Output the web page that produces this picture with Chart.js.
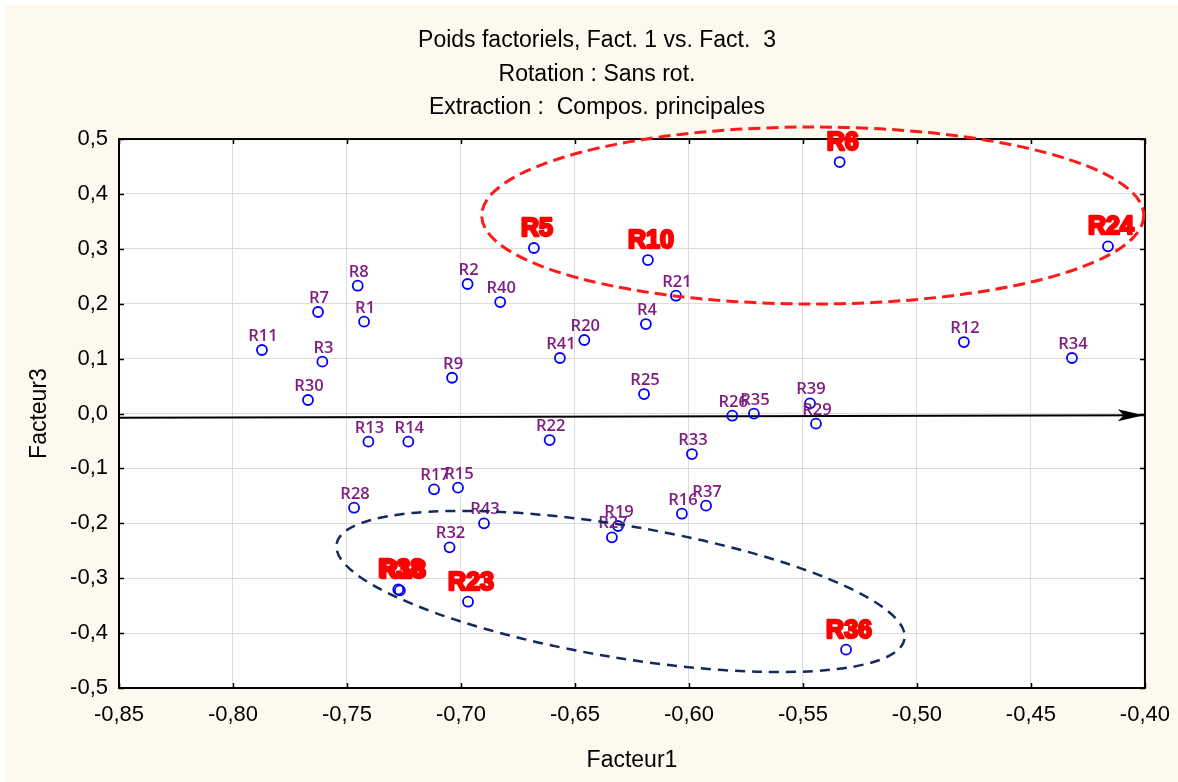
<!DOCTYPE html>
<html>
<head>
<meta charset="utf-8">
<script src="https://cdn.jsdelivr.net/npm/chart.js@4/dist/chart.umd.min.js"></script>
<style>
  html, body { margin: 0; padding: 0; background: #ffffff; overflow: hidden; width: 1178px; height: 782px; }
  #wrap { position: absolute; left: 5px; top: 5px; width: 1179px; height: 777px; background: #fdf9ef; }
</style>
</head>
<body>
<div id="wrap"><canvas id="chart" width="1179" height="777"></canvas></div>
<script>
// Poids factoriels - Fact. 1 vs Fact. 3
const names = ['R1','R2','R3','R4','R5','R6','R7','R8','R9','R10','R11','R12','R13','R14','R15','R16','R17','R18','R19','R20','R21',
               'R22','R23','R24','R25','R26','R27','R28','R29','R30','R32','R33','R34','R35','R36','R37','R38','R39','R40','R41','R43'];
const facteur1 = [-0.7425,-0.6971,-0.7608,-0.6189,-0.6680,-0.5339,-0.7627,-0.7453,-0.7039,-0.6180,-0.7873,-0.4794,-0.7406,-0.7231,
                  -0.7013,-0.6031,-0.7118,-0.7268,-0.6311,-0.6459,-0.6057,-0.6611,-0.6969,-0.4162,-0.6197,-0.5810,-0.6338,-0.7469,
                  -0.5443,-0.7671,-0.7050,-0.5987,-0.4320,-0.5715,-0.5311,-0.5925,-0.7275,-0.5469,-0.6828,-0.6566,-0.6899];
const facteur3 = [0.1673,0.2359,0.0944,0.1630,0.3015,0.4581,0.1849,0.2328,0.0652,0.2796,0.1157,0.1302,-0.0513,-0.0513,
                  -0.1351,-0.1825,-0.1381,-0.3222,-0.2049,0.1339,0.2146,-0.0483,-0.3428,0.3045,0.0355,-0.0040,-0.2255,-0.1716,
                  -0.0185,0.0246,-0.2438,-0.0738,0.1011,-0.0003,-0.4302,-0.1679,-0.3205,0.0185,0.2031,0.1011,-0.2001];
const highlighted = ['R5','R6','R10','R24','R18','R38','R23','R36'];

// axis arrow (Facteur1 direction) and the two hand-drawn groupings
const arrowFrom = { x: -0.85, y: -0.0075 };
const arrowTo = { x: -0.4005, y: -0.003 };
const groups = [
  { cx: -0.5457, cy: 0.3607, rx: 0.1452, ry: 0.1612, angle: 0, color: '#ff1a1a', width: 3, dash: [12, 6] },
  { cx: -0.6300, cy: -0.3242, rx: 0.1263, ry: 0.1202, angle: 9.5, color: '#132a5c', width: 2.5, dash: [10, 7] }
];

const xTicks = [-0.85,-0.80,-0.75,-0.70,-0.65,-0.60,-0.55,-0.50,-0.45,-0.40];
const yTicks = [-0.5,-0.4,-0.3,-0.2,-0.1,0,0.1,0.2,0.3,0.4,0.5];

const fmt = (v, d) => (Math.abs(v) < 1e-9 ? 0 : v).toFixed(d).replace('.', ',');

const points = names.map((n, i) => ({ x: facteur1[i], y: facteur3[i] }));

const plotDecor = {
  id: 'plotDecor',
  beforeDraw(chart) {
    const { ctx, chartArea: a } = chart;
    ctx.save();
    ctx.fillStyle = '#ffffff';
    ctx.fillRect(a.left, a.top, a.right - a.left, a.bottom - a.top);
    ctx.restore();
  },
  afterDatasetsDraw(chart) {
    const { ctx, chartArea: a, scales } = chart;
    const xs = scales.x, ys = scales.y;
    ctx.save();
    // frame + inward ticks
    ctx.strokeStyle = '#000';
    ctx.lineWidth = 1.5;
    xs.ticks.forEach((t, i) => {
      const px = Math.round(xs.getPixelForTick(i)) + 0.5;
      ctx.beginPath();
      ctx.moveTo(px, a.bottom); ctx.lineTo(px, a.bottom - 5);
      ctx.moveTo(px, a.top); ctx.lineTo(px, a.top + 5);
      ctx.stroke();
    });
    ys.ticks.forEach((t, i) => {
      const py = Math.round(ys.getPixelForTick(i)) + 0.5;
      ctx.beginPath();
      ctx.moveTo(a.left, py); ctx.lineTo(a.left + 5, py);
      ctx.moveTo(a.right, py); ctx.lineTo(a.right - 5, py);
      ctx.stroke();
    });
    ctx.lineWidth = 2;
    ctx.strokeRect(a.left, a.top, a.right - a.left, a.bottom - a.top);

    // arrow head
    const x1 = xs.getPixelForValue(arrowFrom.x), y1 = ys.getPixelForValue(arrowFrom.y);
    const x2 = xs.getPixelForValue(arrowTo.x), y2 = ys.getPixelForValue(arrowTo.y);
    const ang = Math.atan2(y2 - y1, x2 - x1);
    ctx.translate(x2, y2);
    ctx.rotate(ang);
    ctx.fillStyle = '#000';
    ctx.beginPath();
    ctx.moveTo(0, 0);
    ctx.lineTo(-26, -6);
    ctx.lineTo(-20, 0);
    ctx.lineTo(-26, 6);
    ctx.closePath();
    ctx.fill();
    ctx.restore();

    // point labels
    const meta = chart.getDatasetMeta(0);
    ctx.save();
    ctx.textAlign = 'center';
    ctx.textBaseline = 'alphabetic';
    meta.data.forEach((el, i) => {
      const name = names[i];
      if (highlighted.includes(name)) {
        ctx.font = 'bold 25px "Liberation Sans", Arial, sans-serif';
        ctx.fillStyle = '#ff0000';
        ctx.strokeStyle = '#ff0000';
        ctx.lineWidth = 2.5;
        ctx.lineJoin = 'round';
        ctx.strokeText(name, el.x + 3, el.y - 12);
        ctx.fillText(name, el.x + 3, el.y - 12);
      } else {
        ctx.font = '600 16.5px "Open Sans", sans-serif';
        ctx.fillStyle = '#801c82';
        ctx.fillText(name, el.x + 1, el.y - 9);
      }
    });
    ctx.restore();
  },
  afterDraw(chart) {
    const { ctx, scales } = chart;
    const xs = scales.x, ys = scales.y;
    ctx.save();
    groups.forEach(g => {
      const cx = xs.getPixelForValue(g.cx), cy = ys.getPixelForValue(g.cy);
      const rx = Math.abs(xs.getPixelForValue(g.cx + g.rx) - cx);
      const ry = Math.abs(ys.getPixelForValue(g.cy + g.ry) - cy);
      ctx.strokeStyle = g.color;
      ctx.lineWidth = g.width;
      ctx.setLineDash(g.dash);
      ctx.beginPath();
      ctx.ellipse(cx, cy, rx, ry, g.angle * Math.PI / 180, 0, Math.PI * 2);
      ctx.stroke();
    });
    ctx.restore();
  }
};

new Chart(document.getElementById('chart'), {
  type: 'scatter',
  data: {
    datasets: [{
      label: 'Poids',
      data: points,
      pointStyle: 'circle',
      pointRadius: 5,
      pointBorderWidth: 1.8,
      borderColor: '#0000ff',
      backgroundColor: 'rgba(0,0,0,0)',
      order: 1
    }, {
      type: 'line',
      label: 'axe',
      data: [arrowFrom, arrowTo],
      borderColor: '#000',
      borderWidth: 2,
      pointRadius: 0,
      fill: false,
      order: 2
    }]
  },
  options: {
    responsive: false,
    animation: false,
    layout: { padding: { left: 44, right: 39, top: 0, bottom: 0 } },
    plugins: {
      legend: { display: false },
      tooltip: { enabled: false },
      title: {
        display: true,
        text: ['Poids factoriels, Fact. 1 vs. Fact.  3', 'Rotation : Sans rot.', 'Extraction :  Compos. principales'],
        color: '#000',
        font: { family: '"Liberation Sans", Arial, sans-serif', size: 23, weight: 'normal', lineHeight: 1.46 },
        padding: { top: 19, bottom: 14.3 }
      }
    },
    scales: {
      x: {
        type: 'linear',
        min: -0.85,
        max: -0.40,
        afterBuildTicks: s => { s.ticks = xTicks.map(v => ({ value: v })); },
        afterFit: s => { s.height = 94; },
        ticks: {
          color: '#000',
          padding: 14,
          maxRotation: 0,
          font: { family: '"Liberation Sans", Arial, sans-serif', size: 22 },
          callback: v => fmt(v, 2)
        },
        grid: { color: '#dcdcdc', lineWidth: 1, drawTicks: false },
        border: { color: '#000', width: 2 },
        title: {
          display: true,
          text: 'Facteur1',
          color: '#000',
          font: { family: '"Liberation Sans", Arial, sans-serif', size: 23 },
          padding: { top: 8, bottom: 8 }
        }
      },
      y: {
        type: 'linear',
        min: -0.5,
        max: 0.5,
        afterBuildTicks: s => { s.ticks = yTicks.map(v => ({ value: v })); },
        afterFit: s => { s.width = 70; },
        ticks: {
          color: '#000',
          padding: 11,
          font: { family: '"Liberation Sans", Arial, sans-serif', size: 22 },
          callback: v => fmt(v, 1)
        },
        grid: { color: '#dcdcdc', lineWidth: 1, drawTicks: false },
        border: { color: '#000', width: 2 },
        title: {
          display: true,
          text: 'Facteur3',
          color: '#000',
          font: { family: '"Liberation Sans", Arial, sans-serif', size: 23 },
          padding: { top: -23, bottom: 0 }
        }
      }
    }
  },
  plugins: [plotDecor]
});
</script>
</body>
</html>
